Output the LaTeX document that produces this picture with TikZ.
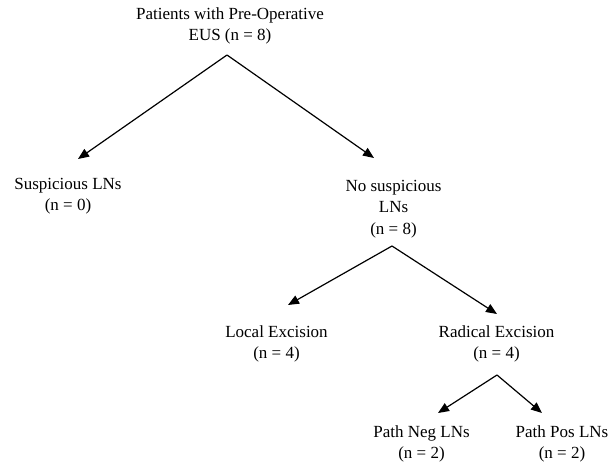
\documentclass[tikz,border=0pt]{standalone}
\usepackage{fontspec}
\setmainfont{Liberation Serif}
\usepackage{tikz}
\usetikzlibrary{arrows.meta}

\begin{document}
\begin{tikzpicture}[x=1pt,y=-1pt,
		txt/.style={align=center,font=\fontsize{17}{21.5}\selectfont,inner sep=0pt},
		arr/.style={line width=1.2pt,-{Triangle[length=11pt,width=9pt]}}]
		\useasboundingbox (0,0) rectangle (612,465);

		\node[txt] (eus) at (230,26) {Patients with Pre-Operative\\EUS (n = 8)};
		\node[txt] (susp) at (68,196) {Suspicious LNs\\(n = 0)};
		\node[txt] (nosusp) at (393.5,209) {No suspicious\\LNs\\(n = 8)};
		\node[txt] (local) at (276.5,344) {Local Excision\\(n = 4)};
		\node[txt] (radical) at (496.5,344) {Radical Excision\\(n = 4)};
		\node[txt] (neg) at (421.5,444) {Path Neg LNs\\(n = 2)};
		\node[txt] (pos) at (562,444) {Path Pos LNs\\(n = 2)};

		\coordinate (a1) at (227,55);
		\coordinate (t1) at (78,159);  \coordinate (t2) at (374,158);
		\coordinate (a2) at (392,246);
		\coordinate (t3) at (288,305); \coordinate (t4) at (497,314);
		\coordinate (a3) at (497,375);
		\coordinate (t5) at (438,413); \coordinate (t6) at (542,413);

		\draw[arr] (a1) to (t1); \draw[arr] (a1) to (t2);
		\draw[arr] (a2) to (t3); \draw[arr] (a2) to (t4);
		\draw[arr] (a3) to (t5); \draw[arr] (a3) to (t6);

	\end{tikzpicture}
\end{document}
